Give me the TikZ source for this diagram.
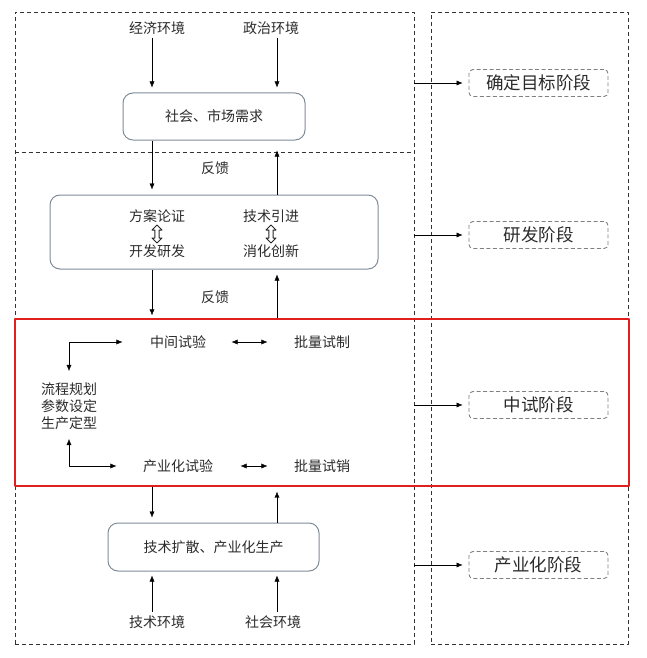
\documentclass[tikz,border=0pt]{standalone}
\usepackage{fontspec}
\setmainfont{Noto Sans CJK SC}
\usetikzlibrary{arrows.meta,shapes.arrows}
\definecolor{txtgray}{HTML}{2B2B2B}
\definecolor{boxgray}{HTML}{7F8C98}
\definecolor{redline}{HTML}{E0201F}
\begin{document}
\begin{tikzpicture}[x=1pt, y=-1pt, >={Latex[length=6pt,width=5pt]}, line join=round,
	font=\fontsize{14}{17}\selectfont, text=txtgray]
	\tikzset{box/.style={draw=boxgray, line width=1pt, rounded corners=10pt},
		frame/.style={draw=black!80, dash pattern=on 4pt off 3pt, line width=0.6pt},
		stage/.style={draw=gray, dash pattern=on 4pt off 2.5pt, line width=0.9pt, rounded corners=4pt,
			minimum width=139, minimum height=27, font=\fontsize{17.5}{20}\selectfont},
		dbl/.style={double arrow, draw=black!85, line width=1pt, rotate=90, minimum height=18pt,
			minimum width=10pt, double arrow head extend=1.5pt, inner sep=0.6pt}}
	\useasboundingbox (0,0) rectangle (647,658);
	% frames
	\node[frame, minimum width=399, minimum height=632, inner sep=0] (left) at (214.5,328) {};
	\node[frame, minimum width=197, minimum height=632, inner sep=0] (right) at (529.5,328) {};
	\draw[frame] (left.west |- 0,152) -- (left.east |- 0,152);
	\node[draw=redline, line width=1.3pt, minimum width=614, minimum height=167, inner sep=0] (mid) at (322,402.5) {};
	\coordinate (L) at (152,0);
	\coordinate (R) at (277,0);
	% stage 1
	\node (jj) at (157,28) {经济环境};
	\node (zz) at (271,28) {政治环境};
	\node[box, minimum width=182, minimum height=47] (sc) at (214,116.5) {社会、市场需求};
	\draw[->, shorten >=5pt] (jj.south -| L) -- (sc.north -| L);
	\draw[->, shorten >=5pt] (zz.south -| R) -- (sc.north -| R);
	% stage 2
	\node[box, minimum width=328, minimum height=74] (dev) at (214,232) {};
	\node (fa) at (157,216) {方案论证};
	\node (kf) at (157,251) {开发研发};
	\node (js) at (271,216) {技术引进};
	\node (xh) at (271,251) {消化创新};
	\node[dbl] (d1) at (157,234) {};
	\node[dbl] (d2) at (271,234) {};
	\node (fk1) at (215,168) {反馈};
	\node (fk2) at (215,297) {反馈};
	\draw[->, shorten >=5pt] (sc.south -| L) -- (dev.north -| L);
	\draw[->, shorten >=10pt] (dev.north -| R) -- (sc.south -| R);
	\draw[->, shorten >=3pt] (dev.south -| L) -- (mid.north -| L);
	\draw[->, shorten >=5pt] (mid.north -| R) -- (dev.south -| R);
	% stage 3
	\node (zj) at (178,342) {中间试验};
	\node (plsz) at (322,342) {批量试制};
	\node (cy) at (178,466) {产业化试验};
	\node (plsx) at (322,466) {批量试销};
	\node[align=center] (lc) at (69,406) {流程规划\\参数设定\\生产定型};
	\draw[<->, shorten <=22pt, shorten >=23pt] (zj) -- (plsz);
	\draw[<->, shorten <=24pt, shorten >=23pt] (cy) -- (plsx);
	\draw[<->] ([yshift=8pt]lc.north) |- ([xshift=-24pt]zj.west);
	\draw[<->] ([yshift=-6pt]lc.south) |- ([xshift=-23pt]cy.west);
	% stage 4
	\node[box, minimum width=211, minimum height=48] (prod) at (213.5,547) {技术扩散、产业化生产};
	\node (jshj) at (157,622) {技术环境};
	\node (shhj) at (273,622) {社会环境};
	\draw[->, shorten >=5pt] (mid.south -| L) -- (prod.north -| L);
	\draw[->, shorten >=5pt] (prod.north -| R) -- (mid.south -| R);
	\draw[->, shorten >=4pt] (jshj.north -| L) -- (prod.south -| L);
	\draw[->, shorten >=4pt] (shhj.north -| R) -- (prod.south -| R);
	% stages
	\node[stage] (s1) at (538.5,83) {确定目标阶段};
	\node[stage] (s2) at (538.5,235) {研发阶段};
	\node[stage] (s3) at (538.5,405) {中试阶段};
	\node[stage] (s4) at (538.5,565) {产业化阶段};
	\foreach \s in {s1,s2,s3,s4}
		\draw[->, shorten >=6pt] (\s.west -| left.east) -- (\s.west);
\end{tikzpicture}
\end{document}
